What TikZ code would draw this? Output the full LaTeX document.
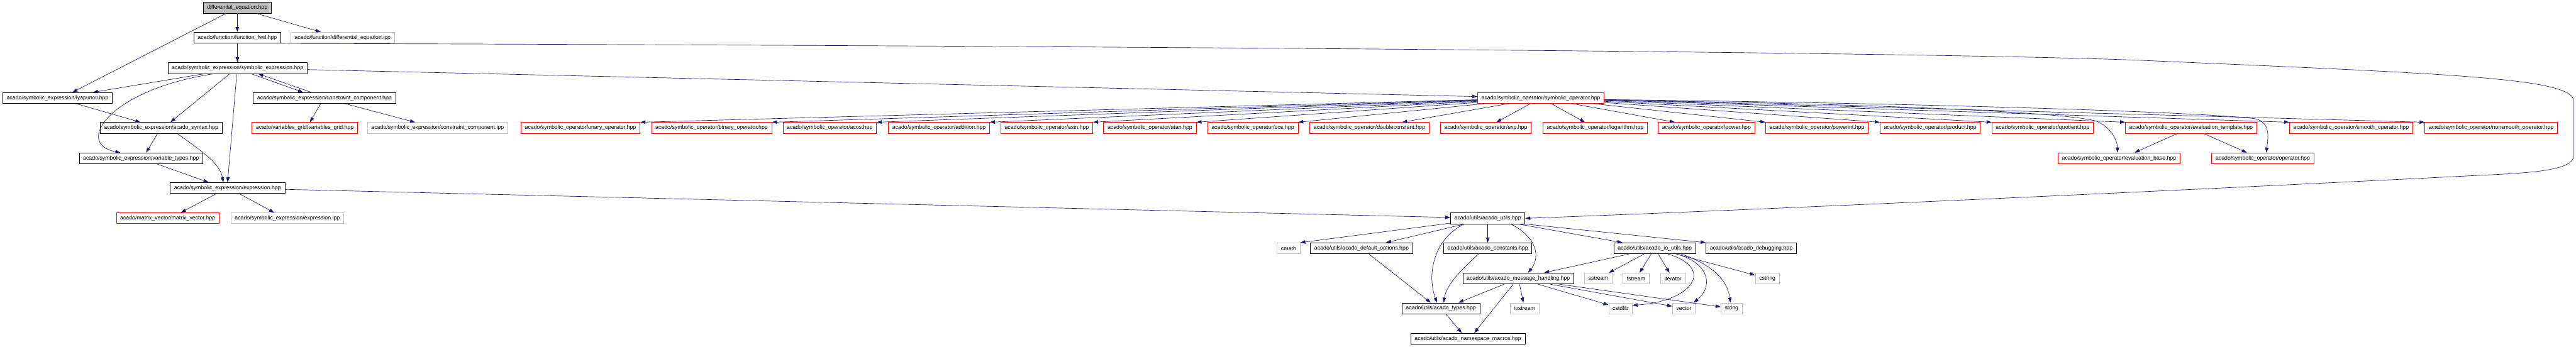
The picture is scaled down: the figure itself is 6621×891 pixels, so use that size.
\documentclass[tikz,border=0pt]{standalone}
\usepackage{fontspec}
\setmainfont{Liberation Sans}
\usetikzlibrary{positioning,arrows.meta}
\definecolor{edgeblue}{HTML}{191970}
\definecolor{truncred}{HTML}{FF0000}
\definecolor{extgray}{HTML}{BFBFBF}
\tikzset{
  box/.style={rectangle,draw=black,line width=1.3pt,fill=white,inner xsep=10pt,
    inner ysep=0pt,minimum height=28pt,font=\fontsize{14.2}{16}\selectfont},
  ext/.style={box,draw=extgray},
  trunc/.style={box,draw=truncred},
  root/.style={box,fill=extgray},
  fl/.style={-{Triangle[length=13pt,width=9pt]},draw=edgeblue,line width=1.1pt},
}
\begin{document}
\begin{tikzpicture}[x=1pt,y=-1pt]
  \useasboundingbox (0,0) rectangle (6621,891);
  \node[root] (de) at (610,20) {differential\_equation.hpp};
  \node[box] (ffwd) at (610,97) {acado/function/function\_fwd.hpp};
  \node[ext,right=24pt of ffwd] (deipp) {acado/function/differential\_equation.ipp};
  \node[box] (se) at (610.5,175) {acado/symbolic\_expression/symbolic\_expression.hpp};
  \node[box] (lyap) at (148,252) {acado/symbolic\_expression/lyapunov.hpp};
  \node[box] (cc) at (834,252) {acado/symbolic\_expression/constraint\_component.hpp};
  \node[trunc] (so) at (3960.5,252) {acado/symbolic\_operator/symbolic\_operator.hpp};
  \node[box] (syn) at (414,329) {acado/symbolic\_expression/acado\_syntax.hpp};
  \node[trunc] (vgrid) at (783.5,329) {acado/variables\_grid/variables\_grid.hpp};
  \node[ext,right=24pt of vgrid] (ccipp) {acado/symbolic\_expression/constraint\_component.ipp};
  \node[trunc] (unary) at (1492,329) {acado/symbolic\_operator/unary\_operator.hpp};
  \node[trunc] (binary) at (1829,329) {acado/symbolic\_operator/binary\_operator.hpp};
  \node[trunc] (acos) at (2132.5,329) {acado/symbolic\_operator/acos.hpp};
  \node[trunc] (add) at (2413.5,329) {acado/symbolic\_operator/addition.hpp};
  \node[trunc] (asin) at (2690.5,329) {acado/symbolic\_operator/asin.hpp};
  \node[trunc] (atan) at (2955.5,329) {acado/symbolic\_operator/atan.hpp};
  \node[trunc] (cos) at (3220,329) {acado/symbolic\_operator/cos.hpp};
  \node[trunc] (dconst) at (3519.5,329) {acado/symbolic\_operator/doubleconstant.hpp};
  \node[trunc] (exp) at (3819,329) {acado/symbolic\_operator/exp.hpp};
  \node[trunc] (log) at (4100,329) {acado/symbolic\_operator/logarithm.hpp};
  \node[trunc] (power) at (4386,329) {acado/symbolic\_operator/power.hpp};
  \node[trunc] (powint) at (4670,329) {acado/symbolic\_operator/powerint.hpp};
  \node[trunc] (prod) at (4961,329) {acado/symbolic\_operator/product.hpp};
  \node[trunc] (quot) at (5250,329) {acado/symbolic\_operator/quotient.hpp};
  \node[trunc] (evtpl) at (5631.5,329) {acado/symbolic\_operator/evaluation\_template.hpp};
  \node[trunc] (smooth) at (6043,329) {acado/symbolic\_operator/smooth\_operator.hpp};
  \node[trunc] (nsmooth) at (6403,329) {acado/symbolic\_operator/nonsmooth\_operator.hpp};
  \node[box] (vtyp) at (362.5,407) {acado/symbolic\_expression/variable\_types.hpp};
  \node[trunc] (evbase) at (5446.5,407) {acado/symbolic\_operator/evaluation\_base.hpp};
  \node[trunc] (oper) at (5816,407) {acado/symbolic\_operator/operator.hpp};
  \node[box] (expr) at (585,483.5) {acado/symbolic\_expression/expression.hpp};
  \node[trunc] (mv) at (431,561) {acado/matrix\_vector/matrix\_vector.hpp};
  \node[ext] (exipp) at (738.5,561) {acado/symbolic\_expression/expression.ipp};
  \node[box] (au) at (3824,561.5) {acado/utils/acado\_utils.hpp};
  \node[ext] (cmath) at (3312,638.5) {cmath};
  \node[box] (defopt) at (3499.5,638.5) {acado/utils/acado\_default\_options.hpp};
  \node[box] (cst) at (3824,638.5) {acado/utils/acado\_constants.hpp};
  \node[box] (io) at (4253,638.5) {acado/utils/acado\_io\_utils.hpp};
  \node[box] (dbg) at (4501,638.5) {acado/utils/acado\_debugging.hpp};
  \node[box] (msg) at (3902.5,716) {acado/utils/acado\_message\_handling.hpp};
  \node[ext] (sstr) at (4108,716) {sstream};
  \node[ext] (fstr) at (4205,716) {fstream};
  \node[ext] (iter) at (4300,716) {iterator};
  \node[ext] (cstr) at (4542.5,716) {cstring};
  \node[box] (typ) at (3703.5,793) {acado/utils/acado\_types.hpp};
  \node[ext] (iostr) at (3918.5,793) {iostream};
  \node[ext] (cstd) at (4165,793) {cstdlib};
  \node[ext] (vec) at (4328,793) {vector};
  \node[ext] (str) at (4450.5,793) {string};
  \node[box] (nm) at (3773,871) {acado/utils/acado\_namespace\_macros.hpp};
  \draw[fl] ([xshift=-29pt]de.south) -- ([xshift=38pt]lyap.north);
  \draw[fl] (de) -- (ffwd); \draw[fl] ([xshift=49pt]de.south) -- ([xshift=-56pt]deipp.north);
  \draw[fl] (ffwd) -- (se);
  \draw[fl] (ffwd.south east) .. controls (3000,118) and (5000,135) .. (5500,155)
    .. controls (6300,190) and (6615,200) .. (6615,260) -- (6615,400)
    .. controls (6615,440) and (6500,445) .. (6350,452)
    .. controls (5500,495) and (4500,540) .. (au.east);
  \draw[fl] ([xshift=-85pt]se.south) -- ([xshift=91pt]lyap.north);
  \draw[fl] ([xshift=-60pt]se.south) .. controls (280,230) and (190,370) .. ([xshift=-53pt]vtyp.north);
  \draw[fl] ([xshift=-20pt]se.south) -- ([xshift=24pt]syn.north);
  \draw[fl] ([xshift=-2pt]se.south) -- (expr.north);
  \draw[fl] ([xshift=35pt]se.south) -- ([xshift=-55pt]cc.north);
  \draw[fl] ([xshift=-34pt]cc.north) -- ([xshift=53pt]se.south);
  \draw[fl] (se) -- (so);
  \draw[fl] ([xshift=48pt]lyap.south) -- ([xshift=-53pt]syn.north);
  \draw[fl] ([xshift=-10pt]cc.south) -- ([xshift=13pt]vgrid.north);
  \draw[fl] ([xshift=53pt]cc.south) -- ([xshift=-58pt]ccipp.north);
  \draw[fl] ([xshift=-9pt]syn.south) -- ([xshift=13pt]vtyp.north);
  \draw[fl] ([xshift=42pt]syn.south) .. controls (520,390) and (565,420) .. ([xshift=-11pt]expr.north);
  \draw[fl] ([xshift=41pt]vtyp.south) -- ([xshift=-49pt]expr.north);
  \draw[fl] ([xshift=-29pt]expr.south) -- ([xshift=34pt]mv.north);
  \draw[fl] ([xshift=30pt]expr.south) -- ([xshift=-34pt]exipp.north);
  \draw[fl] (expr) -- (au);
  \draw[fl] (so) -- (unary.north east); \draw[fl] (so) -- (binary.north east);
  \draw[fl] (so) -- (acos.north east); \draw[fl] (so) -- (add.north east);
  \draw[fl] (so) -- (asin.north east); \draw[fl] (so) -- (atan.north east);
  \draw[fl] (so) -- (cos.north east); \draw[fl] (so) -- (dconst);
  \draw[fl] (so) -- (exp); \draw[fl] (so) -- (log); \draw[fl] (so) -- (power);
  \draw[fl] (so) -- (powint.north west); \draw[fl] (so) -- (prod.north west);
  \draw[fl] (so) -- (quot.north west); \draw[fl] (so) -- (evtpl.north west);
  \draw[fl] (so) -- (smooth.north west); \draw[fl] (so) -- (nsmooth.north west);
  \draw[fl] ([yshift=-6pt]so.east) .. controls (4700,264) and (5300,285) .. (5390,312)
    .. controls (5425,328) and (5442,360) .. ([xshift=-4pt]evbase.north);
  \draw[fl] ([yshift=-4pt]so.east) .. controls (5000,266) and (5700,290) .. (5800,306)
    .. controls (5835,318) and (5830,350) .. ([xshift=9pt]oper.north);
  \draw[fl] ([xshift=-36pt]evtpl.south) -- ([xshift=40pt]evbase.north);
  \draw[fl] ([xshift=33pt]evtpl.south) -- ([xshift=-41pt]oper.north);
  \draw[fl] (au) -- (cmath.north east);
  \draw[fl] ([xshift=-60pt]au.south) -- ([xshift=63pt]defopt.north);
  \draw[fl] ([xshift=-60pt]au.south) .. controls (3690,610) and (3665,700) .. ([xshift=-10pt]typ.north);
  \draw[fl] (au) -- (cst);
  \draw[fl] ([xshift=59pt]au.south) .. controls (3950,610) and (3960,660) .. ([xshift=25pt]msg.north);
  \draw[fl] ([xshift=78pt]au.south) -- ([xshift=-83pt]io.north);
  \draw[fl] (au.south east) -- (dbg.north west);
  \draw[fl] ([xshift=19pt]defopt.south) -- ([xshift=-26pt]typ.north);
  \draw[fl] ([xshift=-24pt]cst.south) .. controls (3760,690) and (3718,730) .. ([xshift=7pt]typ.north);
  \draw[fl] ([xshift=-36pt]msg.south) -- ([xshift=45pt]typ.north);
  \draw[fl] ([xshift=13pt]typ.south) -- ([xshift=-16pt]nm.north);
  \draw[fl] ([xshift=-13pt]msg.south) -- ([xshift=16pt]nm.north);
  \draw[fl] (msg) -- (iostr); \draw[fl] (msg) -- (cstd);
  \draw[fl] (msg) -- (vec); \draw[fl] (msg) -- (str);
  \draw[fl] (io) -- (msg); \draw[fl] (io) -- (sstr); \draw[fl] (io) -- (fstr);
  \draw[fl] (io) -- (iter); \draw[fl] (io) -- (cstr);
  \draw[fl] ([xshift=34pt]io.south) .. controls (4410,690) and (4350,775) .. ([yshift=8pt]cstd.east);
  \draw[fl] ([xshift=57pt]io.south) .. controls (4400,680) and (4400,740) .. ([xshift=25pt]vec.north);
  \draw[fl] ([xshift=68pt]io.south) .. controls (4400,680) and (4440,720) .. ([xshift=-3pt]str.north);
\end{tikzpicture}
\end{document}
